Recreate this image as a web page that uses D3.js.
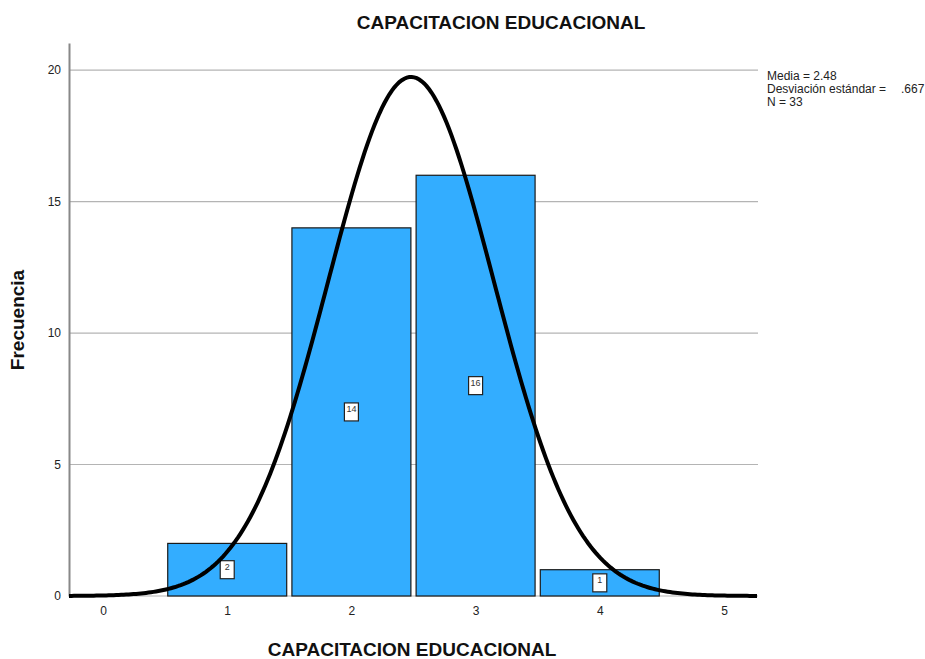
<!DOCTYPE html>
<html>
<head>
<meta charset="utf-8">
<script src="https://cdn.jsdelivr.net/npm/d3@7"></script>
<style>
body { margin: 0; background: #fff; }
text { font-family: "Liberation Sans", Arial, sans-serif; white-space: pre; }
</style>
</head>
<body>
<div id="chart"></div>
<script>
// data
var categories = [1, 2, 3, 4];
var counts = [2, 14, 16, 1];
var xTicks = [0, 1, 2, 3, 4, 5];
var yTicks = [0, 5, 10, 15, 20];
var mean = 2.48, sd = 0.667, n = 33;
var statLabels = ["Media = ", "Desviación estándar = ", "N = "];
var statValues = ["2.48", ".667", "33"];

var W = 925, H = 659;
var margin = { top: 43, right: 167, bottom: 63, left: 69 };
var width = W - margin.left - margin.right,
    height = H - margin.top - margin.bottom;

var svg = d3.select("#chart").append("svg")
    .attr("width", W)
    .attr("height", H);

var g = svg.append("g")
    .attr("transform", "translate(" + margin.left + "," + margin.top + ")");

var x = d3.scaleLinear().domain([-0.274, 5.274]).range([0, width]);
var y = d3.scaleLinear().domain([0, 21.03]).range([height, 0]);

// gridlines
g.append("g")
    .selectAll("line")
    .data(yTicks)
    .enter().append("line")
    .attr("x1", 0).attr("x2", width)
    .attr("y1", function(d) { return y(d); })
    .attr("y2", function(d) { return y(d); })
    .style("stroke", "#b4b4b4")
    .style("stroke-width", 1.2);

// y axis
var yAxis = g.append("g")
    .call(d3.axisLeft(y).tickValues(yTicks).tickFormat(d3.format("d")).tickSize(0).tickPadding(8));
yAxis.select(".domain").style("stroke", "#888").style("stroke-width", 2);
yAxis.selectAll("text").style("font-size", "12px").style("fill", "#222")
    .style("font-family", "'Liberation Sans', Arial, sans-serif");

// x axis (labels only)
var xAxis = g.append("g")
    .attr("transform", "translate(0," + height + ")")
    .call(d3.axisBottom(x).tickValues(xTicks).tickFormat(d3.format("d")).tickSize(0).tickPadding(10));
xAxis.select(".domain").remove();
xAxis.selectAll("text").style("font-size", "12px").style("fill", "#222")
    .style("font-family", "'Liberation Sans', Arial, sans-serif");

// bars
var half = 0.479;
g.append("g")
    .selectAll("rect")
    .data(categories)
    .enter().append("rect")
    .attr("x", function(d) { return x(d - half); })
    .attr("width", function(d) { return x(d + half) - x(d - half); })
    .attr("y", function(d, i) { return y(counts[i]); })
    .attr("height", function(d, i) { return y(0) - y(counts[i]); })
    .style("fill", "#33adff")
    .style("stroke", "#1a1a1a")
    .style("stroke-width", 1.2);

// bar labels
var lab = g.append("g")
    .selectAll("g")
    .data(categories)
    .enter().append("g")
    .attr("transform", function(d, i) { return "translate(" + x(d) + "," + y(counts[i] / 2) + ")"; });
lab.append("rect")
    .attr("x", -7).attr("y", -9)
    .attr("width", 14).attr("height", 18)
    .style("fill", "#fff")
    .style("stroke", "#222")
    .style("stroke-width", 1.2);
lab.append("text")
    .attr("text-anchor", "middle")
    .attr("y", 0)
    .style("font-size", "9px")
    .style("fill", "#333")
    .text(function(d, i) { return counts[i]; });

// normal curve
var pts = d3.range(-0.274, 5.2741, 0.02).map(function(v) {
    var z = (v - mean) / sd;
    return [v, n * Math.exp(-0.5 * z * z) / (sd * Math.sqrt(2 * Math.PI))];
});
g.append("path")
    .datum(pts)
    .attr("d", d3.line()
        .x(function(d) { return x(d[0]); })
        .y(function(d) { return y(d[1]); }))
    .style("fill", "none")
    .style("stroke", "#000")
    .style("stroke-width", 4);

// titles
svg.append("text")
    .attr("x", 501).attr("y", 29)
    .attr("text-anchor", "middle")
    .style("font-size", "19px").style("font-weight", "bold")
    .style("fill", "#111")
    .text("CAPACITACION EDUCACIONAL");

svg.append("text")
    .attr("x", 412).attr("y", 656)
    .attr("text-anchor", "middle")
    .style("font-size", "19px").style("font-weight", "bold")
    .style("fill", "#111")
    .text("CAPACITACION EDUCACIONAL");

svg.append("text")
    .attr("transform", "translate(24,320) rotate(-90)")
    .attr("text-anchor", "middle")
    .style("font-size", "19px").style("font-weight", "bold")
    .style("fill", "#111")
    .text("Frecuencia");

// stats
var stats = svg.append("g");
stats.selectAll("text")
    .data(statLabels)
    .enter().append("text")
    .attr("x", 767)
    .attr("y", function(d, i) { return 80 + i * 13; })
    .style("font-size", "12px").style("fill", "#222")
    .each(function(d, i) {
        var t = d3.select(this);
        t.append("tspan").text(d);
        var v = t.append("tspan").text(statValues[i]);
        if (i === 1) v.attr("x", 901);
    });
</script>
</body>
</html>
